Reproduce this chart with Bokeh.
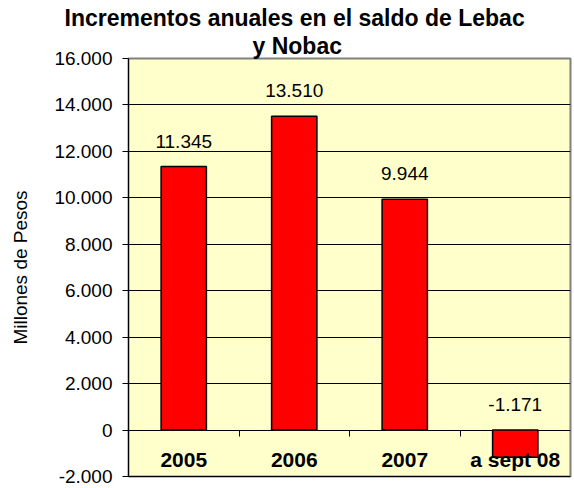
from bokeh.plotting import figure
from bokeh.models import ColumnDataSource, LabelSet, FixedTicker, LinearAxis, Range1d, Title
from bokeh.core.properties import value
from bokeh.embed import file_html
from bokeh.resources import INLINE

# ---- data ----
CATEGORIES = ["2005", "2006", "2007", "a sept 08"]
VALUES = [11345, 13510, 9944, -1171]
VALUE_LABELS = ["11.345", "13.510", "9.944", "-1.171"]
Y_TICKS = [-2000, 0, 2000, 4000, 6000, 8000, 10000, 12000, 14000, 16000]
Y_TICK_LABELS = ["-2.000", "0", "2.000", "4.000", "6.000", "8.000",
                 "10.000", "12.000", "14.000", "16.000"]
TITLE_LINE1 = "Incrementos anuales en el saldo de Lebac"
TITLE_LINE2 = "y Nobac"
Y_LABEL = "Millones de Pesos"

FONT = "Liberation Sans"
n = len(CATEGORIES)
xs = [i + 1 for i in range(n)]

source = ColumnDataSource(dict(
    x=xs,
    top=VALUES,
    cat=CATEGORIES,
    label=VALUE_LABELS,
    label_y=[max(v, 0) for v in VALUES],
    cat_y=[Y_TICKS[0]] * n,
))

p = figure(
    frame_width=442, frame_height=418,
    x_range=Range1d(0.5, n + 0.5),
    y_range=Range1d(Y_TICKS[0], Y_TICKS[-1]),
    output_backend="svg", toolbar_location=None,
    min_border_left=128, min_border_right=2, min_border_top=58, min_border_bottom=10,
    background_fill_color="#FFFFCC", border_fill_color="white",
)
p.outline_line_color = "#808080"
p.outline_line_width = 2

# titles
p.title.text = TITLE_LINE1
p.title.align = "left"
p.title.offset = -64
p.title.text_font = FONT
p.title.text_font_size = "23px"
p.title.text_font_style = "bold"
p.title.text_color = "black"
p.title.standoff = 0
t2 = Title(text=TITLE_LINE2, align="left", offset=124, text_font=FONT,
           text_font_size="23px", text_font_style="bold", text_color="black",
           standoff=0)
p.add_layout(t2, "above")

p.vbar(x="x", top="top", bottom=0, width=0.41, fill_color="#FF0000",
       line_color="black", line_width=1.5, source=source)

# y axis
ya = p.yaxis[0]
ya.ticker = FixedTicker(ticks=Y_TICKS)
ya.major_label_overrides = {t: l for t, l in zip(Y_TICKS, Y_TICK_LABELS)}
ya.major_label_text_font = FONT
ya.major_label_text_font_size = "19px"
ya.major_label_text_color = "black"
ya.major_tick_out = 6
ya.major_tick_in = 0
ya.minor_tick_line_color = None
ya.axis_line_color = "black"
ya.major_tick_line_color = "black"
ya.major_label_standoff = 10
ya.axis_label = Y_LABEL
ya.axis_label_text_font = FONT
ya.axis_label_text_font_size = "19px"
ya.axis_label_text_font_style = "normal"
ya.axis_label_text_color = "black"
ya.axis_label_standoff = 20

# grid
p.ygrid.ticker = FixedTicker(ticks=Y_TICKS[:-1])
p.ygrid.grid_line_color = "black"
p.ygrid.grid_line_width = 1
p.xgrid.visible = False

# bottom plain axis (black line only)
xa = p.xaxis[0]
xa.ticker = FixedTicker(ticks=[])
xa.axis_line_color = "black"
xa.major_tick_line_color = None
xa.minor_tick_line_color = None
xa.major_label_text_font_size = "0px"

# tick marks between categories at the zero line
tick_axis = LinearAxis(ticker=FixedTicker(ticks=[i + 1.5 for i in range(n - 1)]))
tick_axis.fixed_location = 0
tick_axis.axis_line_color = None
tick_axis.major_tick_line_color = "black"
tick_axis.major_tick_in = 0
tick_axis.major_tick_out = 6
tick_axis.minor_tick_line_color = None
tick_axis.major_label_text_font_size = "0px"
tick_axis.major_label_overrides = {i + 1.5: "" for i in range(n - 1)}
p.add_layout(tick_axis, "below")

# category labels
cat_labels = LabelSet(x="x", y="cat_y", text="cat", source=source,
                      text_align="center", text_baseline="alphabetic", y_offset=10,
                      text_font=value(FONT), text_font_size="21px",
                      text_font_style="bold", text_color="black")
p.add_layout(cat_labels)

# value labels
val_labels = LabelSet(x="x", y="label_y", text="label", source=source,
                      text_align="center", text_baseline="alphabetic", y_offset=19,
                      text_font=value(FONT), text_font_size="19px", text_color="black")
p.add_layout(val_labels)

open("out.html", "w").write(file_html(p, INLINE))
